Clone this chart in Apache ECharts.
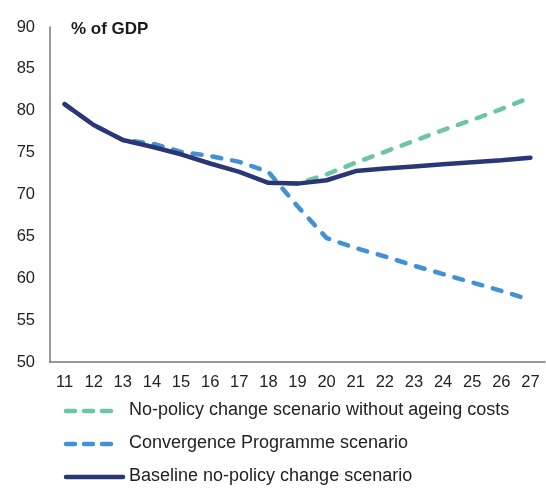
<!DOCTYPE html>
<html><head><meta charset="utf-8">
<script src="https://cdn.jsdelivr.net/npm/echarts@6/dist/echarts.min.js"></script>
<style>html,body{margin:0;padding:0;background:#fff}#c{width:546px;height:488px}</style>
</head><body><div id="c"></div>
<script>
var categories = ['11','12','13','14','15','16','17','18','19','20','21','22','23','24','25','26','27'];
var noAgeing = [null,null,null,null,null,null,null,71.4,71.3,72.4,73.8,75.1,76.4,77.7,78.9,80.2,81.6];
var convergence = [80.8,78.3,76.5,76.1,75.1,74.6,73.9,72.7,68.6,64.8,63.6,62.6,61.5,60.5,59.5,58.5,57.4];
var baseline = [80.8,78.3,76.5,75.7,74.8,73.7,72.7,71.4,71.3,71.7,72.8,73.1,73.35,73.6,73.85,74.1,74.4];
var names = ['No-policy change scenario without ageing costs','Convergence Programme scenario','Baseline no-policy change scenario'];
var yTicks = [50,55,60,65,70,75,80,85,90];

var colors = ['#6CC5A4','#4191D5','#2B3674'];
var dashes = [[9,11],[9,11],null];
var chart = echarts.init(document.getElementById('c'), null, {renderer:'canvas'});
var font = 'Liberation Sans, Arial, sans-serif';

var legendGraphics = [];
names.forEach(function(n, i){
  var y = 411 + i*33;
  legendGraphics.push({type:'line', shape:{x1:66, y1:y, x2:(i<2?115:123), y2:y},
    style:{stroke:colors[i], lineWidth:4.5, lineCap:'round', lineDash:(i<2?[9,9]:null)}});
  legendGraphics.push({type:'text', left:129, top:y-10, style:{text:n, fontSize:18, fill:'#222', fontFamily:font}});
});

chart.setOption({
  animation:false,
  textStyle:{fontFamily:font},
  title:{text:'% of GDP', left:66, top:16, textStyle:{fontSize:17, fontWeight:'bold', color:'#1a1a1a', fontFamily:font}},
  grid:{left:50, right:1, top:27, bottom:126},
  xAxis:{type:'category', data:categories, boundaryGap:true,
    axisLine:{lineStyle:{color:'#777', width:1.5}}, axisTick:{show:false},
    axisLabel:{color:'#222', fontSize:16.5, margin:12, interval:0}},
  yAxis:{type:'value', min:yTicks[0], max:yTicks[yTicks.length-1], interval:5,
    axisLine:{show:true, lineStyle:{color:'#777', width:1.5}}, axisTick:{show:false}, splitLine:{show:false},
    axisLabel:{color:'#222', fontSize:16.5, margin:15}},
  graphic:legendGraphics,
  series:[
    {name:names[0], type:'line', data:noAgeing, symbol:'none', z:2,
      lineStyle:{color:colors[0], width:4.5, type:dashes[0], cap:'round'}},
    {name:names[1], type:'line', data:convergence, symbol:'none', z:1,
      lineStyle:{color:colors[1], width:4.5, type:dashes[1], cap:'round'}},
    {name:names[2], type:'line', data:baseline, symbol:'none', z:3,
      lineStyle:{color:colors[2], width:4.5, cap:'round'}}
  ]
});
</script></body></html>
